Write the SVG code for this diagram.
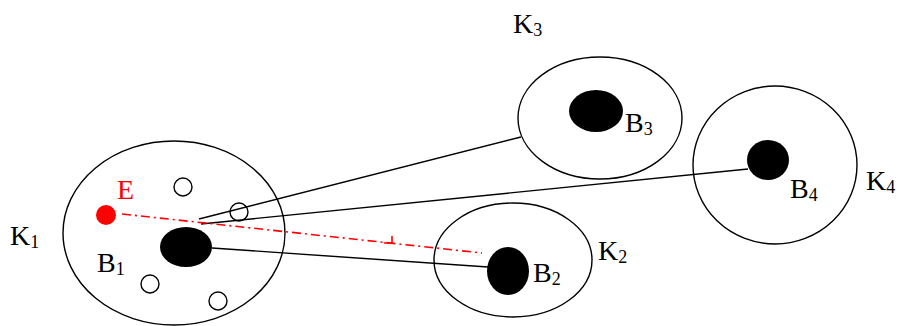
<svg xmlns="http://www.w3.org/2000/svg" width="898" height="326" viewBox="0 0 898 326">
<style>
.ring{fill:none;stroke:#000;stroke-width:1.4}
.hole{fill:#fff;stroke:#000;stroke-width:1.4}
.blob{fill:#000}
.lbl{font-family:"Liberation Serif","Times New Roman",serif;font-size:28px;fill:#000}
.sub{font-size:18px}
.link{stroke:#000;stroke-width:1.4;fill:none}
.dash{stroke:#f00;stroke-width:1.6;fill:none;stroke-dasharray:9 4 2 4}
</style>
<rect width="898" height="326" fill="#fff"/>
<g id="K1">
<ellipse class="ring" cx="174" cy="233" rx="111" ry="92"/>
<circle class="hole" cx="183" cy="187" r="9"/>
<circle class="hole" cx="239" cy="212" r="9"/>
<circle class="hole" cx="150" cy="284" r="9"/>
<circle class="hole" cx="218" cy="301" r="9"/>
<text class="lbl" x="10" y="245">K<tspan class="sub" dy="3">1</tspan></text>
</g>
<g id="B1">
<ellipse class="blob" cx="186" cy="247" rx="26" ry="20"/>
<text class="lbl" x="97" y="272">B<tspan class="sub" dy="3">1</tspan></text>
</g>
<g id="E">
<circle cx="106" cy="215" r="10" fill="#f00"/>
<text class="lbl" x="117" y="199" fill="#f00" style="fill:#f00">E</text>
</g>
<g id="K2">
<ellipse class="ring" cx="513" cy="260" rx="79" ry="57"/>
<text class="lbl" x="598" y="260">K<tspan class="sub" dy="3">2</tspan></text>
</g>
<g id="B2">
<ellipse class="blob" cx="508" cy="271" rx="21" ry="24"/>
<text class="lbl" x="533" y="282">B<tspan class="sub" dy="3">2</tspan></text>
</g>
<g id="K3">
<ellipse class="ring" cx="600" cy="118" rx="82" ry="61"/>
<text class="lbl" x="513" y="33">K<tspan class="sub" dy="3">3</tspan></text>
</g>
<g id="B3">
<ellipse class="blob" cx="596" cy="111" rx="27" ry="21"/>
<text class="lbl" x="625" y="132">B<tspan class="sub" dy="3">3</tspan></text>
</g>
<g id="K4">
<ellipse class="ring" cx="775" cy="165" rx="82" ry="79"/>
<text class="lbl" x="866" y="190">K<tspan class="sub" dy="3">4</tspan></text>
</g>
<g id="B4">
<ellipse class="blob" cx="768" cy="160" rx="21" ry="20"/>
<text class="lbl" x="790" y="198">B<tspan class="sub" dy="3">4</tspan></text>
</g>
<g id="connectors">
<line class="link" x1="199" y1="219" x2="521" y2="137"/>
<line class="link" x1="201" y1="224" x2="748" y2="169"/>
<line class="link" x1="212" y1="248" x2="488" y2="267"/>
<line class="dash" x1="122" y1="214" x2="482" y2="253"/>
<path d="M384 243 L392 243 L392 236" stroke="#f00" stroke-width="1.6" fill="none"/>
</g>
</svg>
